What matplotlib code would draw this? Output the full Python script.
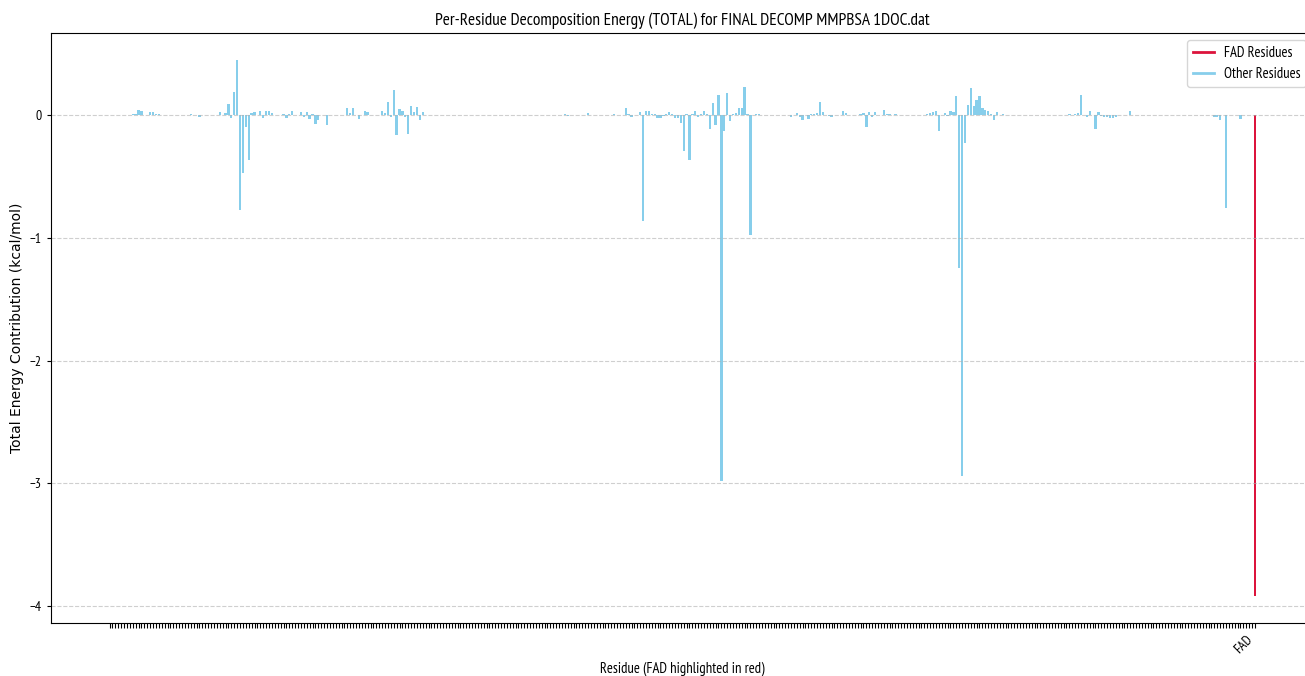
import matplotlib.pyplot as plt
from matplotlib.lines import Line2D

# Per-residue TOTAL decomposition energies (kcal/mol), receptor residues in order
other_energy = [
    0, 0, 0, 0, 0.005, 0.004, 0, 0, 0.012, 0.015,
    0.046, 0.033, 0.008, 0, 0.03, 0.03, 0.015, 0.012, 0.006, 0.005,
    0.007, 0, 0.005, 0, 0, 0, 0, 0, 0.01, 0.008,
    0, -0.013, 0, 0, 0, 0.005, 0.005, 0, 0.025, 0,
    0.02, 0.09, -0.02, 0.19, 0.454, -0.77, -0.465, -0.09, -0.367, 0.02,
    0.025, 0, 0.035, -0.02, 0.04, 0.033, 0.02, 0.005, 0, 0,
    0.01, -0.02, 0.01, 0.033, 0.004, 0, 0.027, -0.015, 0.025, -0.027,
    0.014, -0.07, -0.04, 0, 0, -0.08, 0, 0.003, 0.003, 0.003,
    0, 0, 0.065, 0.02, 0.065, 0.005, -0.03, 0, 0.033, 0.025,
    0.005, 0, 0, 0, 0.033, 0.02, 0.106, -0.01, 0.21, -0.16,
    0.057, 0.033, -0.015, -0.15, 0.079, 0.025, 0.07, -0.035, 0.025, 0,
    0.004, 0.004, 0.006, 0.004, 0, 0, 0, 0, 0, 0,
    0, 0, 0, 0, 0, 0, 0, 0, 0, 0,
    0, 0, 0, 0, 0, 0, 0, 0, 0, 0,
    0, 0, 0, 0, 0, 0, 0, 0, 0, 0,
    0, 0, 0, 0, 0, 0, 0.006, 0.01, -0.008, 0,
    0, 0, 0, 0.004, 0, 0.02, 0, 0, 0, 0,
    0, 0, 0, 0.008, 0.01, 0.008, 0, 0, 0.063, 0.016,
    -0.01, 0, 0.004, 0.027, -0.86, 0.035, 0.04, 0.01, 0.01, -0.02,
    -0.02, -0.005, 0.016, 0.027, 0.016, -0.02, -0.02, -0.06, -0.286, 0.01,
    -0.359, 0.01, 0.033, -0.01, 0.01, 0.033, 0.01, -0.11, 0.098, -0.076,
    0.171, -2.98, -0.125, 0.185, -0.046, 0.01, 0.022, 0.065, 0.065, 0.229,
    0.016, -0.977, 0.008, 0.014, 0.014, 0.005, 0, 0, 0.005, 0.008,
    0.005, 0.008, 0.006, 0.008, 0, -0.015, 0.005, 0.02, -0.015, -0.035,
    0.005, -0.027, 0.015, 0.015, 0.02, 0.106, 0.025, 0.005, -0.008, -0.013,
    0.008, 0.008, 0.008, 0.038, 0.02, 0.008, 0.008, 0, 0, 0.015,
    0.02, -0.09, 0.03, -0.013, 0.025, 0.005, 0, 0.046, 0.015, 0.015,
    0.005, 0.015, 0.005, 0, 0, 0, 0, 0, 0, 0,
    0.008, 0.008, 0.015, 0.02, 0.025, 0.033, -0.125, 0.008, 0.02, -0.003,
    0.04, 0.025, 0.16, -1.24, -2.94, -0.226, 0.087, 0.223, 0.079, 0.128,
    0.16, 0.06, 0.046, 0.033, 0.014, -0.035, 0.03, 0.008, 0.014, 0.005,
    0.008, 0.005, 0.005, 0, 0, 0, 0, 0, 0, 0,
    0, 0, 0, 0, 0, 0, 0, 0, 0, 0,
    0, 0.014, 0.008, 0.014, 0.02, 0.169, 0.005, -0.013, 0.04, 0.005,
    -0.11, 0.025, -0.008, -0.013, -0.013, -0.02, -0.02, -0.013, 0.005, 0.008,
    0.008, 0.008, 0.033, 0.005, 0, 0, 0.004, 0, 0, 0,
    0.008, 0, 0.006, 0, 0, 0.004, 0, 0, 0.006, 0,
    0, 0, 0, 0, 0, 0, 0, 0, 0, 0,
    0, -0.01, -0.015, -0.04, 0, -0.757, 0.005, 0.005, 0.004, 0,
    -0.027, 0.004, 0.004, 0.004, 0,
]
fad_energy = -3.92
fad_label = "FAD"
y_ticks = [-4, -3, -2, -1, 0]

NARROW = ["PT Sans Narrow", "DejaVu Sans"]

energies = other_energy + [fad_energy]
tick_labels = [""] * len(other_energy) + [fad_label]
bar_colors = ["skyblue"] * len(other_energy) + ["crimson"]
x = list(range(len(energies)))

fig = plt.figure(figsize=(13.05, 6.76), dpi=100)
ax = fig.add_axes([0.03908, 0.0784, 0.96743, 0.87278])

ax.bar(x, energies, color=bar_colors)

ax.set_xticks(x)
ax.set_xticklabels(tick_labels, rotation=45, ha="right", fontsize=10, family=NARROW)
ax.set_yticks(y_ticks)
ax.set_yticklabels([f"{t:d}".replace("-", "\u2212") for t in y_ticks], family=NARROW, fontsize=10)
ax.tick_params(axis="y", length=3)

ax.grid(axis="y", linestyle="--", alpha=0.6)

ax.set_title("Per-Residue Decomposition Energy (TOTAL) for FINAL DECOMP MMPBSA 1DOC.dat",
             family=NARROW, fontsize=12.5)
ax.set_xlabel("Residue (FAD highlighted in red)", family=NARROW, fontsize=10.5)
ax.set_ylabel("Total Energy Contribution (kcal/mol)", fontsize=10)

handles = [Line2D([0], [0], color="crimson", lw=2),
           Line2D([0], [0], color="skyblue", lw=2)]
ax.legend(handles, ["FAD Residues", "Other Residues"], loc="upper right",
          prop={"family": NARROW, "size": 10.5}, handlelength=1.4, handletextpad=0.7)

fig.savefig("out.png", dpi=100)
